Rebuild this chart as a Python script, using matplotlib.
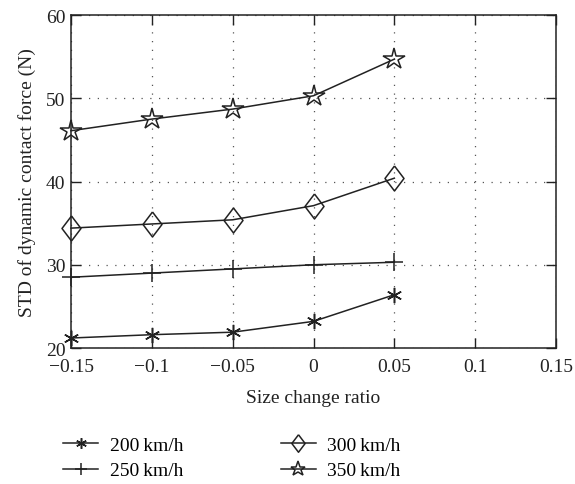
import matplotlib.pyplot as plt

plt.rcParams["font.family"] = ["Liberation Serif", "DejaVu Serif"]

ratio = [-0.15, -0.1, -0.05, 0.0, 0.05]
std_200 = [21.2, 21.6, 21.9, 23.2, 26.4]
std_250 = [28.5, 29.0, 29.5, 30.0, 30.3]
std_300 = [34.4, 34.9, 35.4, 37.1, 40.4]
std_350 = [46.1, 47.5, 48.7, 50.3, 54.7]
labels = ["200\u2009km/h", "250\u2009km/h", "300\u2009km/h", "350\u2009km/h"]
xticks = [-0.15, -0.1, -0.05, 0, 0.05, 0.1, 0.15]
xtick_labels = ["\u22120.15", "\u22120.1", "\u22120.05", "0", "0.05", "0.1", "0.15"]
yticks = [20, 30, 40, 50, 60]

# tall diamond like the one in the figure
diamond = [(0, 1), (0.76, 0), (0, -1), (-0.76, 0), (0, 1)]

fig = plt.figure(figsize=(5.75, 4.85), dpi=100)
ax = fig.add_axes([0.1235, 0.2804, 0.8435, 0.6866])

style = dict(color="#222222", linewidth=1.1, clip_on=False, zorder=3)
l1, = ax.plot(ratio, std_200, marker=(6, 2, 0), markersize=11, markeredgewidth=1.1,
              label=labels[0], **style)
l2, = ax.plot(ratio, std_250, marker="+", markersize=13, markeredgewidth=1.1,
              label=labels[1], **style)
l3, = ax.plot(ratio, std_300, marker=diamond, markersize=18, markerfacecolor="none",
              markeredgewidth=1.1, label=labels[2], **style)
l4, = ax.plot(ratio, std_350, marker="*", markersize=16, markerfacecolor="none",
              markeredgewidth=1.1, label=labels[3], **style)

ax.set_xlim(-0.15, 0.15)
ax.set_ylim(20, 60)
ax.set_xticks(xticks)
ax.set_xticklabels(xtick_labels)
ax.set_yticks(yticks)
ax.tick_params(direction="in", top=True, right=True, length=7, width=1.0,
               labelsize=14, colors="#222222")
ax.tick_params(axis="x", pad=7)
ax.tick_params(axis="y", pad=4)
ax.grid(True, linestyle=(0, (1, 6)), color="#555555", linewidth=0.9)
for s in ax.spines.values():
    s.set_linewidth(1.1)
    s.set_color("#222222")

ax.set_xlabel("Size change ratio", fontsize=14, color="#222222", labelpad=10)
ax.set_ylabel("STD of dynamic contact force (N)", fontsize=14, color="#222222", labelpad=7)

fig.legend(handles=[l1, l2, l3, l4], loc="upper left", bbox_to_anchor=(0.11, 0.098),
           ncol=2, frameon=False, fontsize=14, markerscale=0.7, handlelength=1.8,
           handletextpad=0.6, columnspacing=5.0, labelspacing=0.4, borderaxespad=0,
           borderpad=0)

fig.savefig("out.png", dpi=100)
